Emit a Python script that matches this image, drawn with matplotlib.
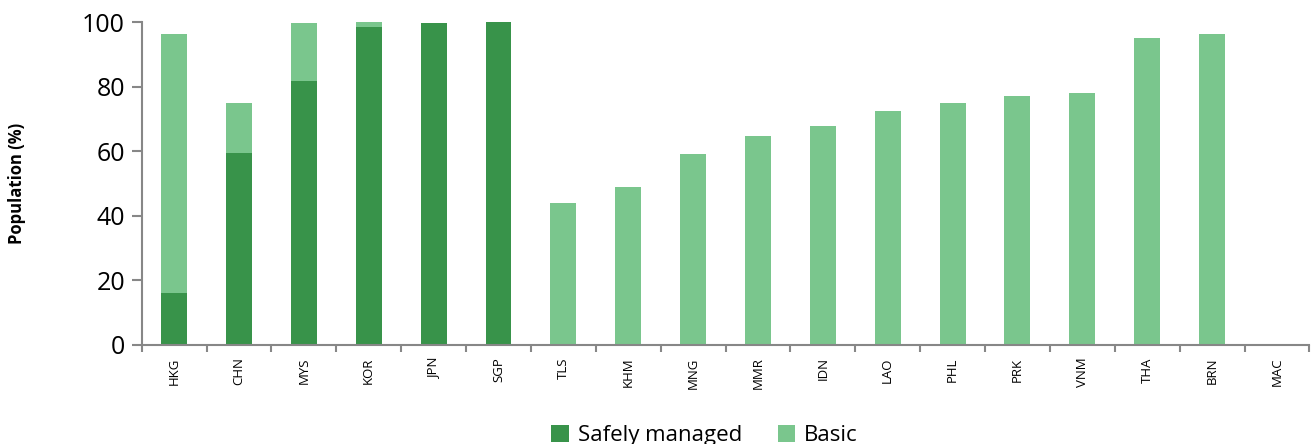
import matplotlib.pyplot as plt
import numpy as np

plt.rcParams['font.family'] = ['Open Sans', 'DejaVu Sans']

# Data
countries = ['HKG', 'CHN', 'MYS', 'KOR', 'JPN', 'SGP', 'TLS', 'KHM', 'MNG',
             'MMR', 'IDN', 'LAO', 'PHL', 'PRK', 'VNM', 'THA', 'BRN', 'MAC']
safely_managed = [16.1, 59.4, 81.8, 98.5, 99.9, 100, 0, 0, 0,
                  0, 0, 0, 0, 0, 0, 0, 0, 0]
basic = [80.2, 15.5, 17.8, 1.5, 0, 0, 44.0, 48.9, 59.1,
         64.7, 67.8, 72.5, 75.1, 77.1, 78.1, 95.0, 96.4, 0]

dark = '#38934a'
light = '#7ac68d'
axis_grey = '#878787'

fig = plt.figure(figsize=(13.12, 4.44), dpi=100)
ax = fig.add_axes([0.108, 0.223, 0.89, 0.727])

x = np.arange(len(countries))
ax.bar(x, safely_managed, width=0.4, color=dark, label='Safely managed')
ax.bar(x, basic, width=0.4, bottom=safely_managed, color=light, label='Basic')

ax.set_xlim(-0.5, len(countries) - 0.5)
ax.set_ylim(0, 100)
ax.set_yticks([0, 20, 40, 60, 80, 100])
ax.tick_params(axis='y', labelsize=18, length=7, width=1.5, color=axis_grey, pad=5)

ax.set_xticks(x)
ax.set_xticklabels(countries, rotation=90, fontsize=9.5)
ax.tick_params(axis='x', which='major', length=0, pad=9)
ax.set_xticks(np.arange(len(countries) + 1) - 0.5, minor=True)
ax.tick_params(axis='x', which='minor', length=5, width=1.5, color=axis_grey)

for side in ['top', 'right']:
    ax.spines[side].set_visible(False)
for side in ['left', 'bottom']:
    ax.spines[side].set_color(axis_grey)
    ax.spines[side].set_linewidth(1.5)

ax.set_ylabel('Population (%)', fontsize=12, fontweight='bold')
ax.yaxis.set_label_coords(-0.099, 0.5)

fig.legend(loc='lower center', bbox_to_anchor=(0.537, -0.05), ncol=2,
           frameon=False, fontsize=16, handlelength=0.8, handleheight=0.8,
           columnspacing=1.6, handletextpad=0.4)

plt.savefig('out.png', dpi=100)
